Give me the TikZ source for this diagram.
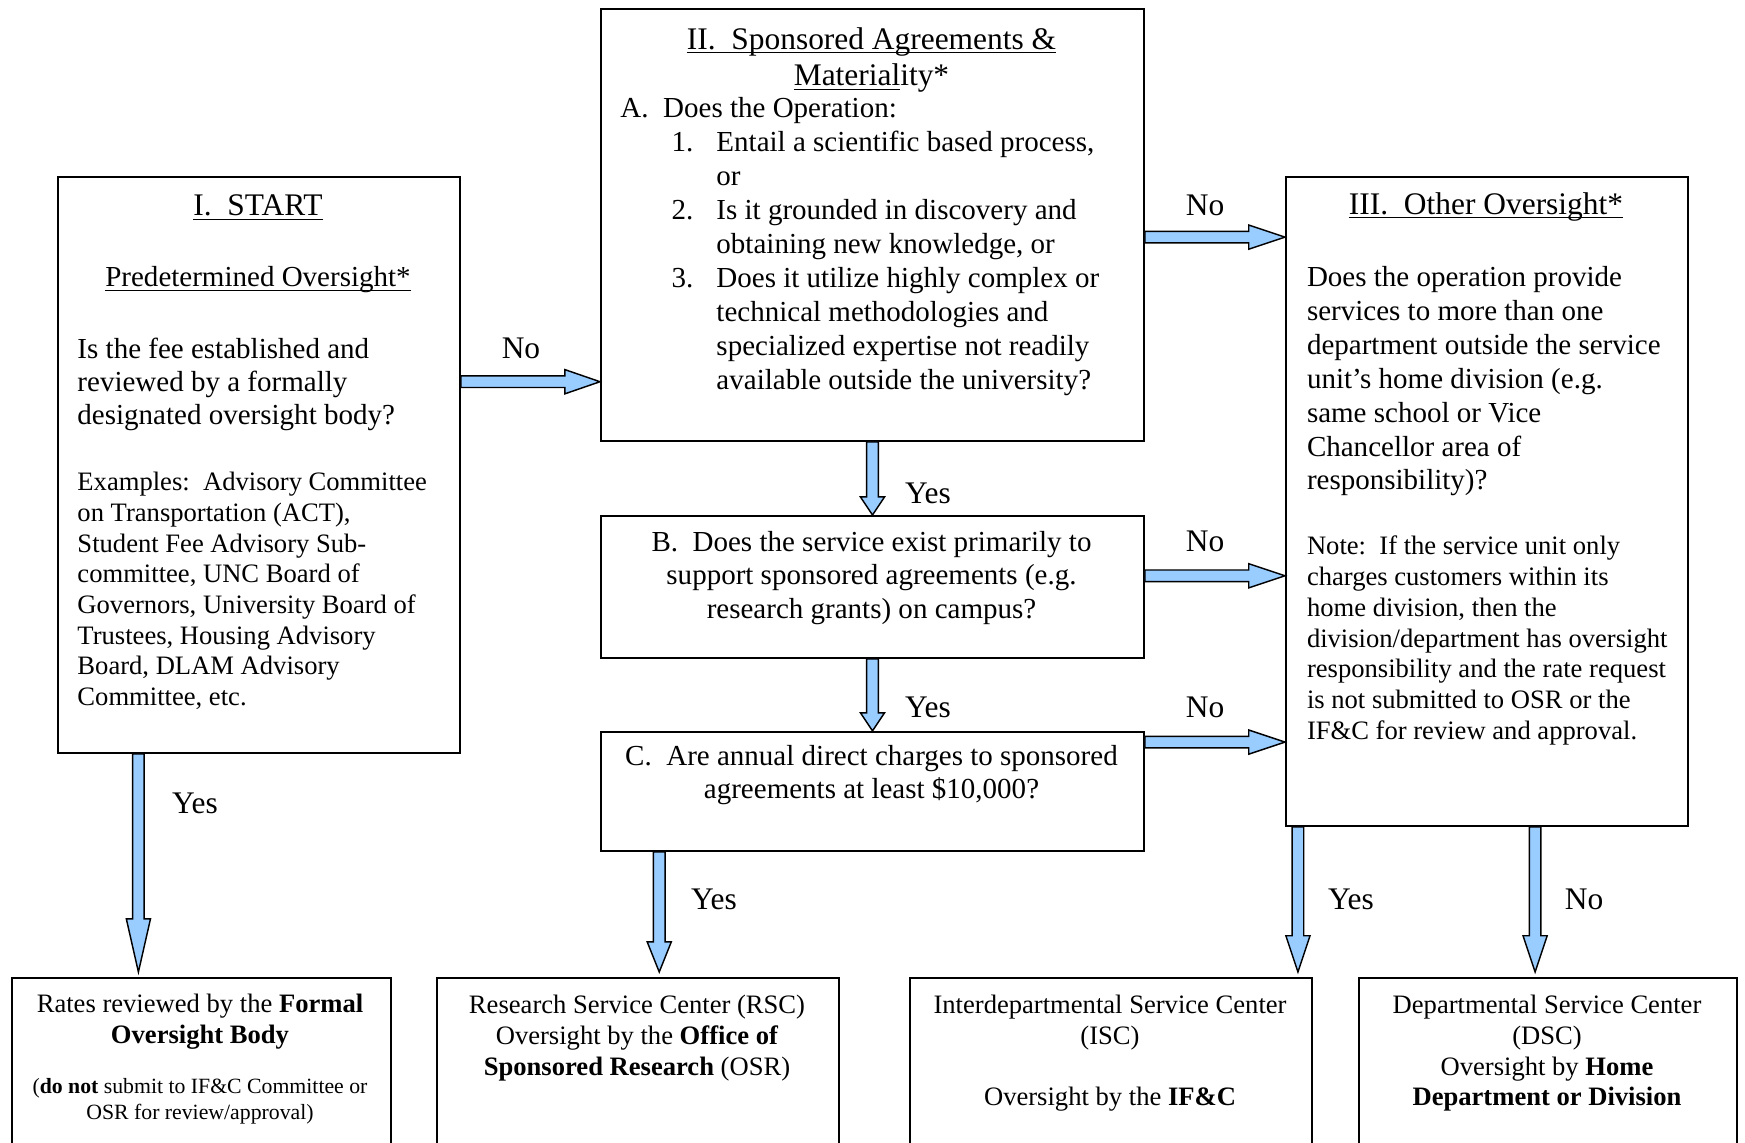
\documentclass[tikz,border=0pt]{standalone}
\usepackage{fontspec}
\setmainfont{Liberation Serif}
\usepackage{tikz}
\usetikzlibrary{calc}
\usetikzlibrary{positioning}

\definecolor{arrowblue}{RGB}{153,204,255}

% underline that sits just under the baseline
\newcommand{\ulhead}[1]{\underline{\raisebox{0pt}[\height][0pt]{#1}}}

\tikzset{
    box/.style={draw, line width=0.8pt, inner sep=0pt, anchor=north west},
    head/.style={font=\fontsize{13pt}{15.2pt}\selectfont, inner sep=0pt},
    body/.style={font=\fontsize{12pt}{14pt}\selectfont, inner sep=0pt},
    note/.style={font=\fontsize{11pt}{12.7pt}\selectfont, inner sep=0pt},
    tiny/.style={font=\fontsize{9pt}{10.6pt}\selectfont, inner sep=0pt},
    answer/.style={font=\fontsize{13pt}{15pt}\selectfont, inner sep=0pt},
    fat/.style={draw=black, fill=arrowblue, line width=0.6pt, line join=miter,
        to path={
            ($(\tikztostart)!2.4pt!90:(\tikztotarget)$)
            -- ($($(\tikztotarget)!#1!(\tikztostart)$)!2.4pt!90:(\tikztotarget)$)
            -- ($($(\tikztotarget)!#1!(\tikztostart)$)!5pt!90:(\tikztotarget)$)
            -- (\tikztotarget)
            -- ($($(\tikztotarget)!#1!(\tikztostart)$)!5pt!-90:(\tikztotarget)$)
            -- ($($(\tikztotarget)!#1!(\tikztostart)$)!2.4pt!-90:(\tikztotarget)$)
            -- ($(\tikztostart)!2.4pt!-90:(\tikztotarget)$)
            -- cycle}},
    fat/.default=15pt
}

\begin{document}
\begin{tikzpicture}[x=0.4136pt, y=-0.4136pt]
            \useasboundingbox (0,0) rectangle (1745,1143);

            % question boxes
            \node[box, minimum width=166.3pt, minimum height=238.2pt] (start) at (57,176) {};
            \node[box, minimum width=224.6pt, minimum height=178.7pt] (sII) at (600,8) {};
            \node[box, minimum width=224.6pt, minimum height=58.7pt, below=30.2pt of sII.south west, anchor=north west] (qB) {};
            \node[box, minimum width=224.6pt, minimum height=49.2pt, below=29.8pt of qB.south west, anchor=north west] (qC) {};
            \node[box, minimum width=166.3pt, minimum height=268.4pt] (sIII) at (1285,176) {};

            % outcome boxes (cut by the page edge)
            \node[box, minimum width=156.8pt, minimum height=75.7pt] (rfob) at (11,977) {};
            \node[box, minimum width=166.3pt, minimum height=75.7pt] (rsc) at (436,977) {};
            \node[box, minimum width=166.3pt, minimum height=75.7pt] (isc) at (909,977) {};
            \node[box, minimum width=156.3pt, minimum height=75.7pt] (dsc) at (1358,977) {};

            % I. start
            \node[head] (startT) at (258,208) {\ulhead{I.\ \ START}};
            \node[body] (startP) at (258,279) {\ulhead{Predetermined Oversight*}};
            \node[body, align=left, anchor=west, font=\fontsize{12pt}{13.7pt}\selectfont] (startQ) at (77,384.5) {Is the fee established and\\reviewed by a formally\\designated oversight body?};
            \node[note, align=left, anchor=west] (startE) at (77,591) {Examples:\ \ Advisory Committee\\on Transportation (ACT),\\Student Fee Advisory Sub-\\committee, UNC Board of\\Governors, University Board of\\Trustees, Housing Advisory\\Board, DLAM Advisory\\Committee, etc.};

            % II. sponsored agreements
            \node[head, align=center] (sIIT) at (871.5,60) {\ulhead{II.\ \ Sponsored Agreements \&}\\\ulhead{Material}ity*};
            \node[body, anchor=west, font=\fontsize{12pt}{14.05pt}\selectfont] (sIIL) at (620,247) {%
                \begin{tabular}{@{}p{39.7pt}@{}l@{}}
                    \multicolumn{2}{@{}l@{}}{A.\ \ Does the Operation:}\\
                    \hspace*{21.1pt}1. & Entail a scientific based process,\\
                    & or\\
                    \hspace*{21.1pt}2. & Is it grounded in discovery and\\
                    & obtaining new knowledge, or\\
                    \hspace*{21.1pt}3. & Does it utilize highly complex or\\
                    & technical methodologies and\\
                    & specialized expertise not readily\\
                    & available outside the university?
                \end{tabular}};
            \node[body, align=center] (qBT) at (871.5,578) {B.\ \ Does the service exist primarily to\\support sponsored agreements (e.g.\\research grants) on campus?};
            \node[body, align=center] (qCT) at (871.5,775) {C.\ \ Are annual direct charges to sponsored\\agreements at least \$10,000?};

            % III. other oversight
            \node[head] (sIIIT) at (1486,206) {\ulhead{III.\ \ Other Oversight*}};
            \node[body, align=left, anchor=west] (sIIIQ) at (1306.5,381.5) {Does the operation provide\\services to more than one\\department outside the service\\unit’s home division (e.g.\\same school or Vice\\Chancellor area of\\responsibility)?};
            \node[note, align=left, anchor=west] (sIIIN) at (1306.5,640.5) {Note:\ \ If the service unit only\\charges customers within its\\home division, then the\\division/department has oversight\\responsibility and the rate request\\is not submitted to OSR or the\\IF\&C for review and approval.};

            % outcomes
            \node[note, align=center] (rfobT) at (200,1022) {Rates reviewed by the \textbf{Formal}\\\textbf{Oversight Body}};
            \node[tiny, align=center] (rfobN) at (200,1101) {(\textbf{do not} submit to IF\&C Committee or\\OSR for review/approval)};
            \node[note, align=center] (rscT) at (637,1038) {Research Service Center (RSC)\\Oversight by the \textbf{Office of}\\\textbf{Sponsored Research} (OSR)};
            \node[note, align=center] (iscT) at (1110,1053.5) {Interdepartmental Service Center\\(ISC)\\[12.7pt]Oversight by the \textbf{IF\&C}};
            \node[note, align=center] (dscT) at (1547,1053.5) {Departmental Service Center\\(DSC)\\Oversight by \textbf{Home}\\\textbf{Department or Division}};

            % arrow ends
            \coordinate (aS1) at ($(start.north east)!0.356!(start.south east)$);
            \coordinate (aS2) at ($(sII.north east)!0.528!(sII.south east)$);
            \coordinate (aS3) at ($(qB.north east)!0.4225!(qB.south east)$);
            \coordinate (aS4) at ($(qC.north east)!0.0924!(qC.south east)$);
            \coordinate (aS7) at ($(start.south west)!0.2015!(start.south east)$);
            \coordinate (aS8) at ($(qC.south west)!0.1087!(qC.south east)$);
            \coordinate (aS9) at ($(sIII.south west)!0.032!(sIII.south east)$);
            \coordinate (aS10) at ($(sIII.south west)!0.619!(sIII.south east)$);
            \coordinate (aE1) at (aS1 -| sII.west);
            \coordinate (aE2) at (aS2 -| sIII.west);
            \coordinate (aE3) at (aS3 -| sIII.west);
            \coordinate (aE4) at (aS4 -| sIII.west);
            \coordinate (aE7) at ($(aS7 |- rfob.north)+(0,-5)$);
            \coordinate (aE8) at ($(aS8 |- rsc.north)+(0,-5)$);
            \coordinate (aE9) at ($(aS9 |- isc.north)+(0,-5)$);
            \coordinate (aE10) at ($(aS10 |- dsc.north)+(0,-5)$);

            % arrows
            \draw[fat=14.5pt] (aS1) to (aE1);
            \draw[fat] (aS2) to (aE2);
            \draw[fat] (aS3) to (aE3);
            \draw[fat] (aS4) to (aE4);
            \draw[fat=7.5pt] (sII.south) to (qB.north);
            \draw[fat=7.5pt] (qB.south) to (qC.north);
            \draw[fat=22pt] (aS7) to (aE7);
            \draw[fat=12.5pt] (aS8) to (aE8);
            \draw[fat] (aS9) to (aE9);
            \draw[fat] (aS10) to (aE10);

            % answers
            \node[answer] (no1) at (521,348) {No};
            \node[answer] (no2) at (1205,205) {No};
            \node[answer] (no3) at (1205,541) {No};
            \node[answer] (no4) at (1205,707) {No};
            \node[answer] (yes1) at (928,493) {Yes};
            \node[answer] (yes2) at (928,707) {Yes};
            \node[answer] (yes3) at (195,803) {Yes};
            \node[answer] (yes4) at (714,899) {Yes};
            \node[answer] (yes5) at (1351,899) {Yes};
            \node[answer] (no5) at (1584,899) {No};
\end{tikzpicture}
\end{document}
